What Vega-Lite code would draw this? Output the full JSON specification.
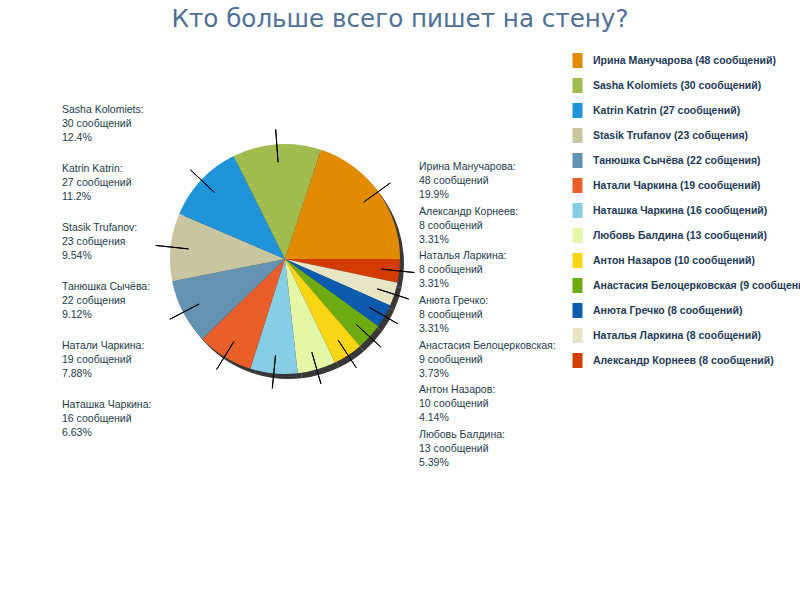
{
  "$schema": "https://vega.github.io/schema/vega-lite/v6.json",
  "width": 570,
  "height": 428,
  "padding": {"left": 0, "top": 7, "right": 0, "bottom": 0},
  "background": "#ffffff",
  "title": {
    "text": "Кто больше всего пишет на стену?",
    "font": "DejaVu Sans",
    "fontSize": 24.6,
    "fontWeight": "normal",
    "color": "#4f7097",
    "anchor": "middle",
    "dx": 115,
    "offset": 12
  },
  "config": {
    "view": {"stroke": null},
    "legend": {
      "labelFont": "Liberation Sans",
      "labelFontSize": 10.5,
      "labelFontWeight": "bold",
      "labelColor": "#1e3a56",
      "labelLimit": 400,
      "rowPadding": 10,
      "labelOffset": 8,
      "symbolType": "M-0.667,-1H0.667V1H-0.667Z",
      "symbolSize": 225,
      "symbolStrokeWidth": 0,
      "padding": 8,
      "offset": -8
    }
  },
  "data": {
    "values": [
      {"name": "Александр Корнеев", "count": 8, "legend": "Александр Корнеев (8 сообщений)", "label": "Александр Корнеев:\n8 сообщений\n3.31%"},
      {"name": "Наталья Ларкина", "count": 8, "legend": "Наталья Ларкина (8 сообщений)", "label": "Наталья Ларкина:\n8 сообщений\n3.31%"},
      {"name": "Анюта Гречко", "count": 8, "legend": "Анюта Гречко (8 сообщений)", "label": "Анюта Гречко:\n8 сообщений\n3.31%"},
      {"name": "Анастасия Белоцерковская", "count": 9, "legend": "Анастасия Белоцерковская (9 сообщений)", "label": "Анастасия Белоцерковская:\n9 сообщений\n3.73%"},
      {"name": "Антон Назаров", "count": 10, "legend": "Антон Назаров (10 сообщений)", "label": "Антон Назаров:\n10 сообщений\n4.14%"},
      {"name": "Любовь Балдина", "count": 13, "legend": "Любовь Балдина (13 сообщений)", "label": "Любовь Балдина:\n13 сообщений\n5.39%"},
      {"name": "Наташка Чаркина", "count": 16, "legend": "Наташка Чаркина (16 сообщений)", "label": "Наташка Чаркина:\n16 сообщений\n6.63%"},
      {"name": "Натали Чаркина", "count": 19, "legend": "Натали Чаркина (19 сообщений)", "label": "Натали Чаркина:\n19 сообщений\n7.88%"},
      {"name": "Танюшка Сычёва", "count": 22, "legend": "Танюшка Сычёва (22 собщения)", "label": "Танюшка Сычёва:\n22 собщения\n9.12%"},
      {"name": "Stasik Trufanov", "count": 23, "legend": "Stasik Trufanov (23 собщения)", "label": "Stasik Trufanov:\n23 собщения\n9.54%"},
      {"name": "Katrin Katrin", "count": 27, "legend": "Katrin Katrin (27 сообщений)", "label": "Katrin Katrin:\n27 сообщений\n11.2%"},
      {"name": "Sasha Kolomiets", "count": 30, "legend": "Sasha Kolomiets (30 сообщений)", "label": "Sasha Kolomiets:\n30 сообщений\n12.4%"},
      {"name": "Ирина Манучарова", "count": 48, "legend": "Ирина Манучарова (48 сообщений)", "label": "Ирина Манучарова:\n48 сообщений\n19.9%"}
    ]
  },
  "layer": [
    {
      "mark": {"type": "arc", "outerRadius": 115, "xOffset": 4, "yOffset": 5, "fill": "#151515", "opacity": 0.85},
      "encoding": {
        "theta": {"field": "count", "type": "quantitative", "stack": true, "scale": {"range": [1.5708, 7.854]}},
        "detail": {"field": "name", "type": "nominal"},
        "order": {"field": "count", "type": "quantitative", "sort": "ascending"}
      }
    },
    {
      "mark": {"type": "arc", "outerRadius": 115},
      "encoding": {
        "theta": {"field": "count", "type": "quantitative", "stack": true, "scale": {"range": [1.5708, 7.854]}},
        "color": {
          "field": "legend",
          "type": "nominal",
          "title": null,
          "scale": {
            "domain": [
              "Ирина Манучарова (48 сообщений)",
              "Sasha Kolomiets (30 сообщений)",
              "Katrin Katrin (27 сообщений)",
              "Stasik Trufanov (23 собщения)",
              "Танюшка Сычёва (22 собщения)",
              "Натали Чаркина (19 сообщений)",
              "Наташка Чаркина (16 сообщений)",
              "Любовь Балдина (13 сообщений)",
              "Антон Назаров (10 сообщений)",
              "Анастасия Белоцерковская (9 сообщений)",
              "Анюта Гречко (8 сообщений)",
              "Наталья Ларкина (8 сообщений)",
              "Александр Корнеев (8 сообщений)"
            ],
            "range": ["#e38b00", "#a2bb4e", "#1f94d9", "#c8c6a0", "#6592b0", "#ea5e29", "#86cee3", "#e3f7a6", "#fad514", "#6eab10", "#0c5bae", "#e8e4c6", "#d23c00"]
          },
          "legend": {"orient": "right"}
        },
        "order": {"field": "count", "type": "quantitative", "sort": "ascending"}
      }
    },
    {
      "mark": {"type": "arc", "outerRadius": 130, "innerRadius": 97, "padAngle": 3.1, "fill": null, "stroke": "#000000", "strokeWidth": 1},
      "encoding": {
        "theta": {"field": "count", "type": "quantitative", "stack": true, "scale": {"range": [1.5708, 7.854]}},
        "detail": {"field": "name", "type": "nominal"},
        "order": {"field": "count", "type": "quantitative", "sort": "ascending"}
      }
    },
    {
      "transform": [{"filter": {"field": "name", "oneOf": ["Ирина Манучарова", "Александр Корнеев", "Наталья Ларкина", "Анюта Гречко", "Анастасия Белоцерковская", "Антон Назаров", "Любовь Балдина"]}}],
      "mark": {"type": "text", "align": "left", "baseline": "middle", "dx": 134, "lineBreak": "\n", "lineHeight": 14, "font": "Liberation Sans", "fontSize": 10.5, "color": "#1e3a4a"},
      "encoding": {
        "y": {
          "field": "name",
          "type": "nominal",
          "sort": ["Ирина Манучарова", "Александр Корнеев", "Наталья Ларкина", "Анюта Гречко", "Анастасия Белоцерковская", "Антон Назаров", "Любовь Балдина"],
          "scale": {"type": "point", "range": [122, 390], "padding": 0},
          "axis": null
        },
        "text": {"field": "label", "type": "nominal"}
      }
    },
    {
      "transform": [{"filter": {"field": "name", "oneOf": ["Sasha Kolomiets", "Katrin Katrin", "Stasik Trufanov", "Танюшка Сычёва", "Натали Чаркина", "Наташка Чаркина"]}}],
      "mark": {"type": "text", "align": "left", "baseline": "middle", "dx": -223, "lineBreak": "\n", "lineHeight": 14, "font": "Liberation Sans", "fontSize": 10.5, "color": "#1e3a4a"},
      "encoding": {
        "y": {
          "field": "name",
          "type": "nominal",
          "sort": ["Sasha Kolomiets", "Katrin Katrin", "Stasik Trufanov", "Танюшка Сычёва", "Натали Чаркина", "Наташка Чаркина"],
          "scale": {"type": "point", "range": [65, 360], "padding": 0},
          "axis": null
        },
        "text": {"field": "label", "type": "nominal"}
      }
    }
  ],
  "resolve": {"scale": {"y": "independent"}}
}
